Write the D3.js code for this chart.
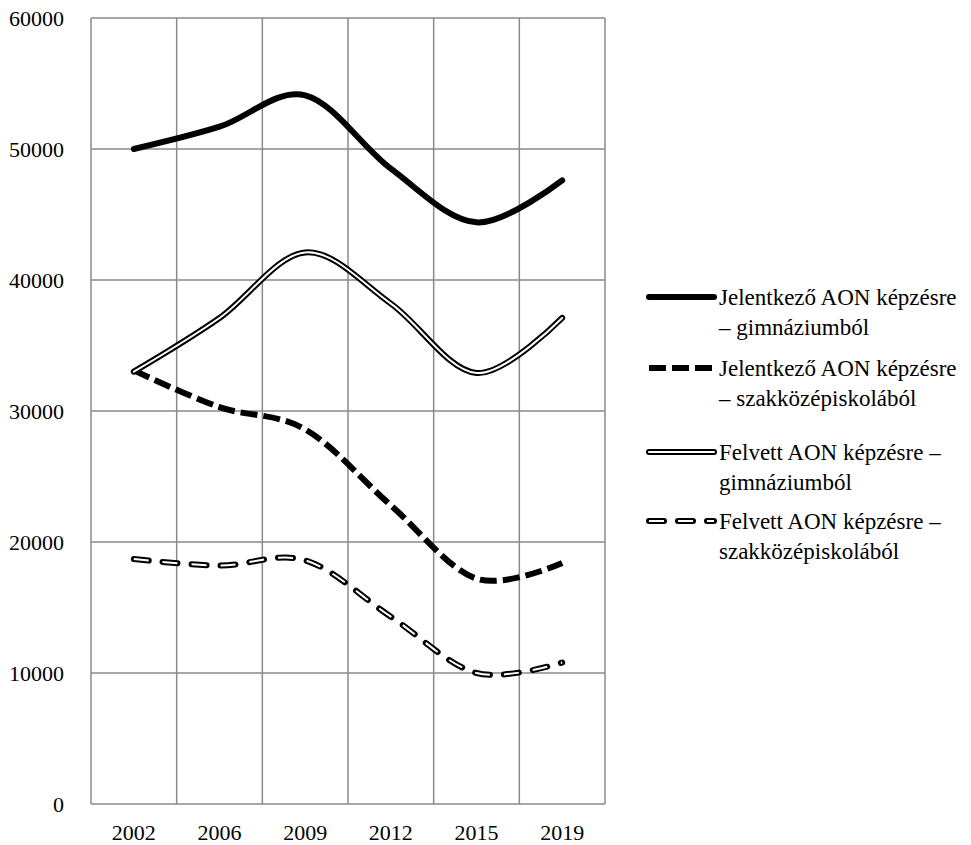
<!DOCTYPE html>
<html>
<head>
<meta charset="utf-8">
<script src="https://cdn.jsdelivr.net/npm/d3@7"></script>
<style>
  body { margin: 0; background: #fff; }
</style>
</head>
<body>
<div id="chart"></div>
<script>
var years = ["2002", "2006", "2009", "2012", "2015", "2019"];
var jelGimn = [50000, 51700, 54100, 48500, 44400, 47600];
var jelSzak = [33100, 30300, 28600, 22800, 17200, 18400];
var felGimn = [33000, 37100, 42100, 38200, 32900, 37100];
var felSzak = [18700, 18200, 18600, 14300, 10000, 10800];
var yTicks = [0, 10000, 20000, 30000, 40000, 50000, 60000];
var legendLabels = [
  ["Jelentkező AON képzésre", "– gimnáziumból"],
  ["Jelentkező AON képzésre", "– szakközépiskolából"],
  ["Felvett AON képzésre –", "gimnáziumból"],
  ["Felvett AON képzésre –", "szakközépiskolából"]
];

var width = 971, height = 845;
var plotLeft = 91, plotRight = 605, plotTop = 18, plotBottom = 804;
var font = "Liberation Serif";

var svg = d3.select("#chart").append("svg")
  .attr("width", width)
  .attr("height", height);

var x = d3.scaleBand().domain(years).range([plotLeft, plotRight]);
var y = d3.scaleLinear().domain([0, 60000]).range([plotBottom, plotTop]);

// grid
var grid = svg.append("g").attr("stroke", "#8a8a8a").attr("stroke-width", 1.5);
grid.selectAll(".h").data(yTicks).enter().append("line")
  .attr("x1", plotLeft).attr("x2", plotRight)
  .attr("y1", d => y(d)).attr("y2", d => y(d));
grid.selectAll(".v").data(years.concat(["end"])).enter().append("line")
  .attr("x1", d => d == "end" ? plotRight : x(d))
  .attr("x2", d => d == "end" ? plotRight : x(d))
  .attr("y1", plotTop).attr("y2", plotBottom);

// axes
var ya = svg.append("g").attr("transform", "translate(" + plotLeft + ",0)")
  .call(d3.axisLeft(y).tickValues(yTicks).tickSize(0).tickPadding(27).tickFormat(d3.format("d")));
ya.select(".domain").remove();
ya.selectAll("text").attr("font-family", font).attr("font-size", 22).attr("fill", "#000");

var xa = svg.append("g").attr("transform", "translate(0," + plotBottom + ")")
  .call(d3.axisBottom(x).tickSize(0).tickPadding(20));
xa.select(".domain").remove();
xa.selectAll("text").attr("font-family", font).attr("font-size", 22).attr("fill", "#000");

var line = d3.line()
  .x((d, i) => x(years[i]) + x.bandwidth() / 2)
  .y(d => y(d))
  .curve(d3.curveCardinal.tension(0));

var styles = [
  [{ w: 6, c: "#000", cap: "round" }],
  [{ w: 6, c: "#000", dash: "17,6", cap: "butt" }],
  [{ w: 6, c: "#000", cap: "round" }, { w: 2, c: "#fff", cap: "round" }],
  [{ w: 6, c: "#000", dash: "15,14", cap: "round" }, { w: 2, c: "#fff", dash: "15,14", cap: "butt" }]
];
var series = [jelGimn, jelSzak, felGimn, felSzak];

function stroke(sel, st) {
  sel.attr("fill", "none")
    .attr("stroke", st.c)
    .attr("stroke-width", st.w)
    .attr("stroke-linecap", st.cap)
    .attr("stroke-linejoin", "round")
    .attr("stroke-dasharray", st.dash || null);
}

series.forEach(function(s, i) {
  styles[i].forEach(function(st) {
    svg.append("path").attr("d", line(s)).call(stroke, st);
  });
});

// legend
var legY = [297, 368, 452, 521];
legendLabels.forEach(function(lab, i) {
  var g = svg.append("g").attr("transform", "translate(0," + legY[i] + ")");
  styles[i].forEach(function(st) {
    g.append("line").attr("x1", 649).attr("x2", 714).attr("y1", 0).attr("y2", 0).call(stroke, st);
  });
  g.selectAll("text").data(lab).enter().append("text")
    .attr("x", 719)
    .attr("y", (d, j) => j * 30)
    .attr("dy", "0.35em")
    .attr("font-family", font)
    .attr("font-size", 23)
    .attr("fill", "#000")
    .text(d => d);
});
</script>
</body>
</html>
